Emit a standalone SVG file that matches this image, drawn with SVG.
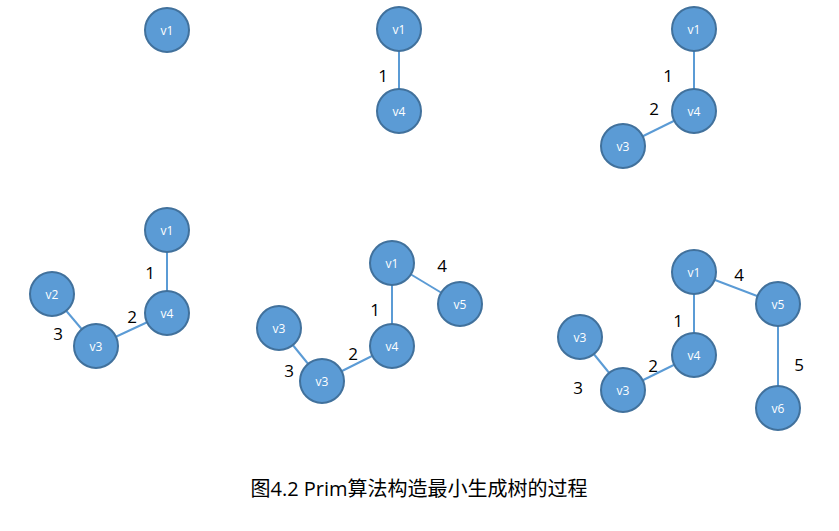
<svg xmlns="http://www.w3.org/2000/svg" width="839" height="531" viewBox="0 0 839 531">
<style>
.n circle{fill:#5B9BD5;stroke:#41719C;stroke-width:2}
.n text{fill:#fff;font-family:"Open Sans","Noto Sans",sans-serif;font-size:12px;text-anchor:middle;dominant-baseline:central}
.e line{stroke:#5B9BD5;stroke-width:2}
.w{fill:#000;font-family:"Open Sans","Noto Sans",sans-serif;font-size:17px;text-anchor:middle;dominant-baseline:central}
.cap{fill:#000;font-family:"Open Sans","Noto Sans","Noto Sans CJK SC",sans-serif;font-size:20px;text-anchor:middle;dominant-baseline:central}
</style>
<rect width="839" height="531" fill="#fff"/>
<g id="connectors" class="e">
<line x1="399" y1="29" x2="399" y2="111"/>
<line x1="694" y1="29" x2="694" y2="111"/>
<line x1="694" y1="111" x2="623" y2="146"/>
<line x1="167" y1="230" x2="167" y2="313"/>
<line x1="167" y1="313" x2="96" y2="346"/>
<line x1="96" y1="346" x2="52" y2="294"/>
<line x1="392" y1="263" x2="392" y2="346"/>
<line x1="392" y1="263" x2="460" y2="304"/>
<line x1="392" y1="346" x2="322" y2="381"/>
<line x1="322" y1="381" x2="279" y2="328"/>
<line x1="694" y1="272" x2="694" y2="355"/>
<line x1="694" y1="272" x2="778" y2="304"/>
<line x1="778" y1="304" x2="778" y2="408"/>
<line x1="694" y1="355" x2="623" y2="390"/>
<line x1="623" y1="390" x2="580" y2="337"/>
</g>
<g id="labels">
<text class="w" x="383" y="75">1</text>
<text class="w" x="668" y="75">1</text>
<text class="w" x="654" y="108">2</text>
<text class="w" x="150" y="272">1</text>
<text class="w" x="132" y="316">2</text>
<text class="w" x="58" y="333">3</text>
<text class="w" x="375" y="309">1</text>
<text class="w" x="353" y="353">2</text>
<text class="w" x="289" y="370">3</text>
<text class="w" x="442" y="265">4</text>
<text class="w" x="678" y="320">1</text>
<text class="w" x="653" y="365">2</text>
<text class="w" x="578" y="387">3</text>
<text class="w" x="739" y="274">4</text>
<text class="w" x="799" y="364">5</text>
</g>
<g id="p1-v1" class="n"><circle cx="167" cy="30" r="22"/><text x="167" y="30">v1</text></g>
<g id="p2-v1" class="n"><circle cx="399" cy="29" r="22"/><text x="399" y="29">v1</text></g>
<g id="p2-v4" class="n"><circle cx="399" cy="111" r="22"/><text x="399" y="111">v4</text></g>
<g id="p3-v1" class="n"><circle cx="694" cy="29" r="22"/><text x="694" y="29">v1</text></g>
<g id="p3-v4" class="n"><circle cx="694" cy="111" r="22"/><text x="694" y="111">v4</text></g>
<g id="p3-v3" class="n"><circle cx="623" cy="146" r="22"/><text x="623" y="146">v3</text></g>
<g id="p4-v1" class="n"><circle cx="167" cy="230" r="22"/><text x="167" y="230">v1</text></g>
<g id="p4-v4" class="n"><circle cx="167" cy="313" r="22"/><text x="167" y="313">v4</text></g>
<g id="p4-v2" class="n"><circle cx="52" cy="294" r="22"/><text x="52" y="294">v2</text></g>
<g id="p4-v3" class="n"><circle cx="96" cy="346" r="22"/><text x="96" y="346">v3</text></g>
<g id="p5-v1" class="n"><circle cx="392" cy="263" r="22"/><text x="392" y="263">v1</text></g>
<g id="p5-v4" class="n"><circle cx="392" cy="346" r="22"/><text x="392" y="346">v4</text></g>
<g id="p5-v5" class="n"><circle cx="460" cy="304" r="22"/><text x="460" y="304">v5</text></g>
<g id="p5-v3a" class="n"><circle cx="279" cy="328" r="22"/><text x="279" y="328">v3</text></g>
<g id="p5-v3b" class="n"><circle cx="322" cy="381" r="22"/><text x="322" y="381">v3</text></g>
<g id="p6-v1" class="n"><circle cx="694" cy="272" r="22"/><text x="694" y="272">v1</text></g>
<g id="p6-v4" class="n"><circle cx="694" cy="355" r="22"/><text x="694" y="355">v4</text></g>
<g id="p6-v5" class="n"><circle cx="778" cy="304" r="22"/><text x="778" y="304">v5</text></g>
<g id="p6-v6" class="n"><circle cx="778" cy="408" r="22"/><text x="778" y="408">v6</text></g>
<g id="p6-v3a" class="n"><circle cx="580" cy="337" r="22"/><text x="580" y="337">v3</text></g>
<g id="p6-v3b" class="n"><circle cx="623" cy="390" r="22"/><text x="623" y="390">v3</text></g>
<text class="cap" x="419" y="488">图4.2 Prim算法构造最小生成树的过程</text>
</svg>
